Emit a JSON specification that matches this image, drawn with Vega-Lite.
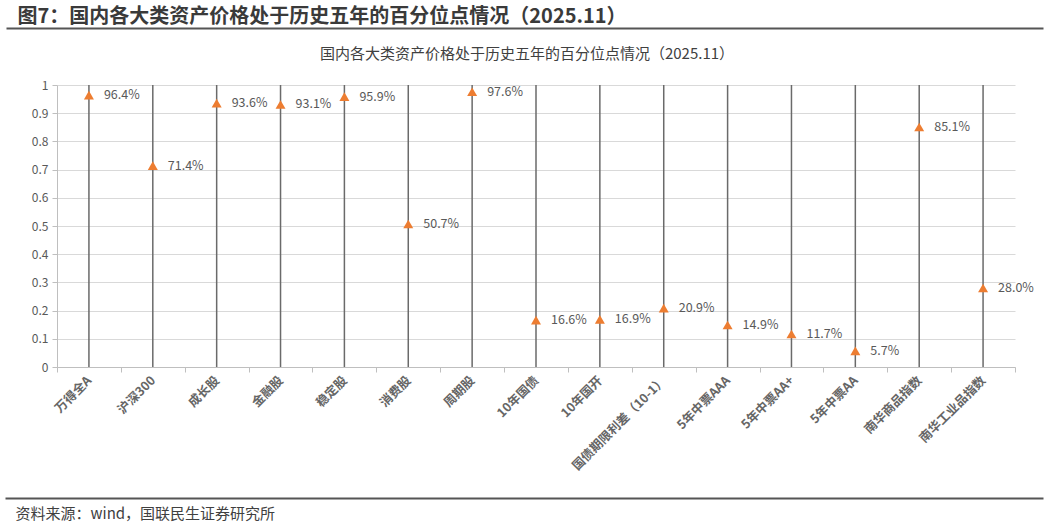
{
  "$schema": "https://vega.github.io/schema/vega-lite/v6.json",
  "width": 958,
  "height": 282,
  "autosize": {"type": "none"},
  "padding": {"left": 57, "top": 85, "right": 34, "bottom": 158},
  "background": "white",
  "config": {"view": {"stroke": null}, "font": "Noto Sans CJK SC"},
  "title": {
    "text": "国内各大类资产价格处于历史五年的百分位点情况（2025.11）",
    "fontSize": 15,
    "fontWeight": "normal",
    "color": "#404040",
    "anchor": "middle",
    "frame": "group",
    "offset": -56,
    "dx": -9,
    "font": "Noto Sans CJK SC"
  },
  "data": {
    "values": [
      {"name": "万得全A", "value": 0.964},
      {"name": "沪深300", "value": 0.714},
      {"name": "成长股", "value": 0.936},
      {"name": "金融股", "value": 0.931},
      {"name": "稳定股", "value": 0.959},
      {"name": "消费股", "value": 0.507},
      {"name": "周期股", "value": 0.976},
      {"name": "10年国债", "value": 0.166},
      {"name": "10年国开", "value": 0.169},
      {"name": "国债期限利差（10-1）", "value": 0.209},
      {"name": "5年中票AAA", "value": 0.149},
      {"name": "5年中票AA+", "value": 0.117},
      {"name": "5年中票AA", "value": 0.057},
      {"name": "南华商品指数", "value": 0.851},
      {"name": "南华工业品指数", "value": 0.28}
    ]
  },
  "layer": [
    {
      "encoding": {
        "x": {
          "field": "name",
          "type": "nominal",
          "sort": null,
          "scale": {"paddingInner": 0, "paddingOuter": 0},
          "axis": {
            "title": null,
            "labelAngle": -45,
            "labelAlign": "right",
            "labelBaseline": "middle",
            "labelPadding": 6,
            "labelFontSize": 12.5,
            "labelFontWeight": "bold",
            "labelColor": "#666666",
            "labelLimit": 300,
            "tickBand": "extent",
            "tickColor": "#bfbfbf",
            "tickSize": 5,
            "domainColor": "#bfbfbf",
            "domainWidth": 1,
            "grid": false
          }
        }
      },
      "layer": [
        {
          "mark": {"type": "rule", "color": "#6a6a6a", "strokeWidth": 1.5},
          "encoding": {
            "y": {
              "datum": 0,
              "type": "quantitative",
              "scale": {"domain": [0, 1], "nice": false},
              "axis": {
                "values": [0, 0.1, 0.2, 0.3, 0.4, 0.5, 0.6, 0.7, 0.8, 0.9, 1],
                "format": "~g",
                "labelOverlap": false,
                "labelColor": "#595959",
                "labelFontSize": 12,
                "labelPadding": 4,
                "tickColor": "#bfbfbf",
                "tickSize": 5,
                "domainColor": "#bfbfbf",
                "gridColor": "#d9d9d9",
                "grid": true,
                "title": "图7：国内各大类资产价格处于历史五年的百分位点情况（2025.11）",
                "titleAngle": 0,
                "titleX": -40,
                "titleY": -63,
                "titleAlign": "left",
                "titleBaseline": "alphabetic",
                "titleFontSize": 20,
                "titleFontWeight": "bold",
                "titleColor": "#3a3a3a",
                "titleLimit": 1200
              }
            },
            "y2": {"datum": 1}
          }
        },
        {
          "mark": {"type": "point", "shape": "triangle-up", "filled": true, "color": "#ED7D31", "size": 100, "opacity": 1},
          "encoding": {
            "y": {
              "field": "value",
              "type": "quantitative",
              "axis": {
                "values": [0, 0.1, 0.2, 0.3, 0.4, 0.5, 0.6, 0.7, 0.8, 0.9, 1],
                "format": "~g",
                "labelOverlap": false,
                "labelColor": "#595959",
                "labelFontSize": 12,
                "labelPadding": 4,
                "tickColor": "#bfbfbf",
                "tickSize": 5,
                "domainColor": "#bfbfbf",
                "gridColor": "#d9d9d9",
                "grid": true,
                "title": "图7：国内各大类资产价格处于历史五年的百分位点情况（2025.11）",
                "titleAngle": 0,
                "titleX": -40,
                "titleY": -63,
                "titleAlign": "left",
                "titleBaseline": "alphabetic",
                "titleFontSize": 20,
                "titleFontWeight": "bold",
                "titleColor": "#3a3a3a",
                "titleLimit": 1200
              }
            }
          }
        },
        {
          "mark": {"type": "text", "align": "left", "dx": 15, "baseline": "middle", "fontSize": 12.5, "color": "#595959"},
          "encoding": {
            "y": {
              "field": "value",
              "type": "quantitative",
              "axis": {
                "values": [0, 0.1, 0.2, 0.3, 0.4, 0.5, 0.6, 0.7, 0.8, 0.9, 1],
                "format": "~g",
                "labelOverlap": false,
                "labelColor": "#595959",
                "labelFontSize": 12,
                "labelPadding": 4,
                "tickColor": "#bfbfbf",
                "tickSize": 5,
                "domainColor": "#bfbfbf",
                "gridColor": "#d9d9d9",
                "grid": true,
                "title": "图7：国内各大类资产价格处于历史五年的百分位点情况（2025.11）",
                "titleAngle": 0,
                "titleX": -40,
                "titleY": -63,
                "titleAlign": "left",
                "titleBaseline": "alphabetic",
                "titleFontSize": 20,
                "titleFontWeight": "bold",
                "titleColor": "#3a3a3a",
                "titleLimit": 1200
              }
            },
            "text": {"field": "value", "type": "quantitative", "format": ".1%"}
          }
        }
      ]
    },
    {
      "mark": {"type": "rule", "opacity": 0},
      "encoding": {
        "x": {
          "datum": 0,
          "type": "quantitative",
          "scale": {"domain": [0, 1], "range": [-51, 986]},
          "axis": {"orient": "top", "offset": 57, "domainColor": "#555555", "domainWidth": 2, "ticks": false, "labels": false, "grid": false, "title": null}
        }
      }
    },
    {
      "mark": {"type": "rule", "opacity": 0},
      "encoding": {
        "x": {
          "datum": 0,
          "type": "quantitative",
          "scale": {"domain": [0, 1], "range": [-52, 986]},
          "axis": {
            "orient": "bottom",
            "offset": 131,
            "domainColor": "#555555",
            "domainWidth": 2,
            "ticks": false,
            "labels": false,
            "grid": false,
            "title": "资料来源：wind，国联民生证券研究所",
            "titleAnchor": "start",
            "titleAlign": "left",
            "titleX": -42,
            "titleY": 20,
            "titleBaseline": "alphabetic",
            "titleFontSize": 15,
            "titleFontWeight": "normal",
            "titleColor": "#404040"
          }
        }
      }
    }
  ],
  "resolve": {"scale": {"x": "independent"}, "axis": {"x": "independent"}}
}
